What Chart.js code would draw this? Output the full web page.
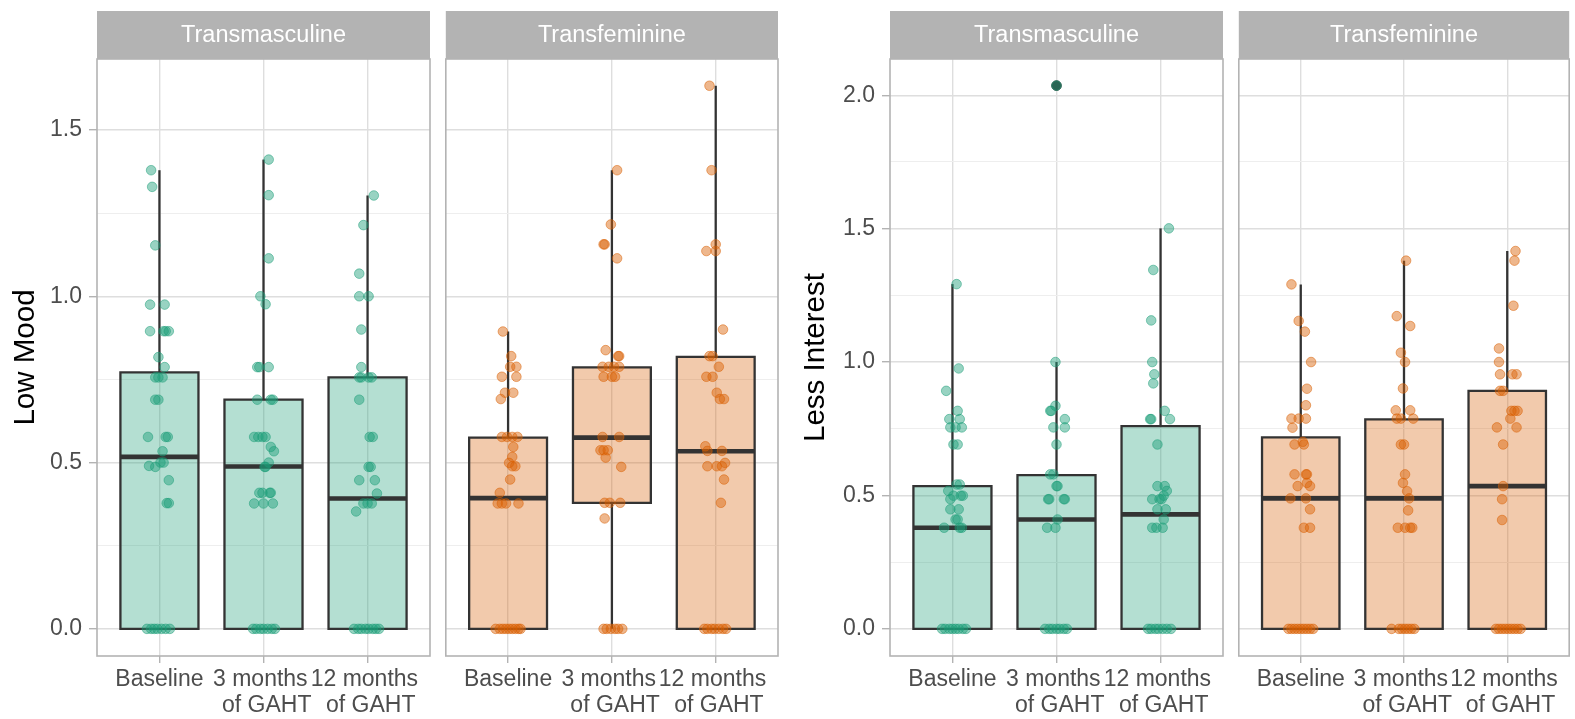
<!DOCTYPE html>
<html>
<head>
<meta charset="utf-8">
<script src="https://cdn.jsdelivr.net/npm/chart.js@4.4.1/dist/chart.umd.min.js"></script>
<style>
  html, body { margin: 0; padding: 0; background: #fff; }
  body { width: 1575px; height: 719px; position: relative; overflow: hidden; }
  canvas { position: absolute; top: 0; }
</style>
</head>
<body>
<canvas id="c1"></canvas>
<canvas id="c2"></canvas>
<canvas id="c3"></canvas>
<canvas id="c4"></canvas>
<script>
const categories = [['Baseline'], ['3 months ', ' of GAHT'], ['12 months ', ' of GAHT']];
const groups = ['Transmasculine', 'Transfeminine'];
const lowMoodTicks = [0, 0.25, 0.5, 0.75, 1, 1.25, 1.5];
const lessInterestTicks = [0, 0.25, 0.5, 0.75, 1, 1.25, 1.5, 1.75, 2];

// box stats: [lower whisker, q1, median, q3, upper whisker]
const lowMoodMascBox = [[0, 0, 0.517, 0.771, 1.379], [0, 0, 0.488, 0.689, 1.411], [0, 0, 0.392, 0.756, 1.303]];
const lowMoodFemBox = [[0, 0, 0.393, 0.575, 0.894], [0, 0.379, 0.575, 0.786, 1.379], [0, 0, 0.534, 0.818, 1.633]];
const lessIntMascBox = [[0, 0, 0.379, 0.535, 1.292], [0, 0, 0.41, 0.576, 1.0], [0, 0, 0.429, 0.76, 1.501]];
const lessIntFemBox = [[0, 0, 0.489, 0.718, 1.291], [0, 0, 0.489, 0.785, 1.38], [0, 0, 0.535, 0.892, 1.416]];
const lessIntMascOutliers = [[2, 2.036]];

// jittered points: [value, horizontal jitter]
const lowMoodMascPts = [
  [[1.379,-0.08],[1.329,-0.07],[1.153,-0.04],[0.975,-0.09],[0.975,0.05],[0.895,-0.09],[0.895,0.04],[0.895,0.06],[0.895,0.09],[0.817,-0.01],[0.787,0.05],[0.756,-0.04],[0.756,-0.01],[0.756,0.03],[0.689,-0.04],[0.689,-0.01],[0.577,-0.11],[0.577,0.06],[0.577,0.08],[0.534,0.03],[0.5,0.01],[0.5,0.04],[0.49,-0.1],[0.487,-0.04],[0.447,0.09],[0.378,0.07],[0.378,0.09],[0,-0.12],[0,-0.08],[0,-0.05],[0,-0.02],[0,0.02],[0,0.06],[0,0.1]],
  [[1.411,0.05],[1.304,0.05],[1.114,0.05],[1.0,-0.03],[0.976,0.02],[0.787,-0.06],[0.787,-0.04],[0.787,0.05],[0.689,-0.06],[0.689,0.07],[0.689,0.09],[0.577,-0.09],[0.577,-0.05],[0.577,-0.01],[0.577,0.02],[0.547,0.07],[0.534,0.1],[0.5,0.05],[0.487,0.02],[0.487,0.01],[0.409,-0.04],[0.409,-0.01],[0.409,0.06],[0.409,0.07],[0.377,-0.09],[0.377,0],[0.377,0.09],[0,-0.1],[0,-0.07],[0,-0.03],[0,0],[0,0.04],[0,0.08],[0,0.11]],
  [[1.303,0.06],[1.214,-0.04],[1.068,-0.08],[1.0,-0.08],[1.0,0.01],[0.9,-0.06],[0.787,-0.06],[0.756,-0.08],[0.756,-0.06],[0.756,0.01],[0.756,0.04],[0.689,-0.08],[0.577,0.02],[0.577,0.05],[0.487,0.01],[0.487,0.03],[0.447,-0.08],[0.447,0.07],[0.407,0.09],[0.377,-0.04],[0.377,0],[0.377,0.04],[0.353,-0.11],[0,-0.13],[0,-0.09],[0,-0.06],[0,-0.02],[0,0.01],[0,0.05],[0,0.08],[0,0.11]]
];
const lowMoodFemPts = [
  [[0.894,-0.05],[0.82,0.03],[0.788,0.08],[0.788,0.02],[0.758,-0.06],[0.758,0.08],[0.71,-0.03],[0.71,0.05],[0.691,-0.07],[0.577,-0.06],[0.577,-0.01],[0.577,0.04],[0.577,0.09],[0.547,0.05],[0.517,0.04],[0.499,0.01],[0.489,0.07],[0.489,0.04],[0.449,0.02],[0.409,-0.08],[0.377,-0.1],[0.377,-0.06],[0.377,-0.02],[0.377,0.1],[0,-0.12],[0,-0.08],[0,-0.05],[0,-0.02],[0,0.01],[0,0.04],[0,0.07],[0,0.1],[0,0.12]],
  [[1.379,0.05],[1.216,-0.01],[1.156,-0.08],[1.156,-0.07],[1.114,0.05],[0.838,-0.06],[0.82,0.06],[0.82,0.07],[0.788,-0.09],[0.788,-0.03],[0.788,0.02],[0.788,0.07],[0.758,-0.08],[0.758,0],[0.758,0.03],[0.577,-0.09],[0.577,0.07],[0.537,-0.11],[0.537,-0.08],[0.537,-0.04],[0.515,-0.06],[0.487,0.09],[0.379,-0.07],[0.379,-0.02],[0.379,0.08],[0.332,-0.07],[0,-0.08],[0,-0.05],[0,-0.01],[0,0.03],[0,0.06],[0,0.1]],
  [[1.633,-0.06],[1.379,-0.04],[1.156,0],[1.136,-0.09],[1.136,0],[0.9,0.07],[0.82,-0.06],[0.82,-0.03],[0.788,0.03],[0.758,-0.09],[0.758,-0.03],[0.71,0.01],[0.691,0.04],[0.691,0.08],[0.549,-0.1],[0.535,-0.08],[0.535,0.06],[0.499,0.09],[0.489,-0.08],[0.489,0.01],[0.489,0.06],[0.449,0.08],[0.379,0.05],[0,-0.11],[0,-0.08],[0,-0.04],[0,-0.01],[0,0.03],[0,0.07],[0,0.1]]
];
const lessIntMascPts = [
  [[1.292,0.04],[0.976,0.06],[0.892,-0.06],[0.817,0.05],[0.786,-0.03],[0.786,0.07],[0.755,-0.02],[0.755,0.03],[0.755,0.09],[0.691,0.01],[0.691,0.05],[0.541,0.04],[0.541,0.07],[0.517,-0.04],[0.499,0.01],[0.499,0.08],[0.499,0.1],[0.486,-0.02],[0.448,-0.02],[0.448,0.06],[0.41,0.03],[0.41,0.05],[0.379,-0.08],[0.379,0.07],[0.379,0.09],[0,-0.1],[0,-0.07],[0,-0.03],[0,0],[0,0.03],[0,0.06],[0,0.1],[0,0.13]],
  [[2.036,0],[1.0,-0.01],[0.836,-0.01],[0.817,-0.06],[0.817,-0.05],[0.786,0.08],[0.755,-0.03],[0.755,0.08],[0.691,0],[0.579,-0.06],[0.579,-0.03],[0.535,0],[0.535,0.01],[0.486,-0.08],[0.486,-0.07],[0.486,0.07],[0.486,0.08],[0.41,0.01],[0.379,-0.09],[0.379,-0.01],[0,-0.11],[0,-0.07],[0,-0.04],[0,0],[0,0.03],[0,0.07],[0,0.1]],
  [[1.501,0.08],[1.345,-0.07],[1.156,-0.09],[1.0,-0.08],[0.954,-0.06],[0.92,-0.07],[0.817,0.04],[0.786,-0.1],[0.786,-0.09],[0.786,0.09],[0.691,-0.03],[0.535,-0.03],[0.535,0.04],[0.517,0.06],[0.499,0.03],[0.486,-0.08],[0.486,-0.01],[0.486,0.01],[0.448,-0.03],[0.448,0.05],[0.41,0.03],[0.379,-0.08],[0.379,-0.04],[0.379,0.02],[0,-0.12],[0,-0.09],[0,-0.05],[0,-0.02],[0,0.02],[0,0.06],[0,0.1]]
];
const lessIntFemPts = [
  [[1.291,-0.09],[1.154,-0.02],[1.114,0.04],[1.0,0.1],[0.9,0.06],[0.838,0.05],[0.788,-0.09],[0.788,-0.02],[0.788,0.05],[0.754,-0.08],[0.701,0.02],[0.691,-0.06],[0.691,0.03],[0.579,-0.06],[0.579,0.05],[0.579,0.06],[0.547,0.06],[0.535,-0.03],[0.535,0.09],[0.489,-0.1],[0.489,0.05],[0.448,0.09],[0.379,0.03],[0.379,0.09],[0,-0.12],[0,-0.09],[0,-0.06],[0,-0.03],[0,0],[0,0.03],[0,0.06],[0,0.09],[0,0.12]],
  [[1.38,0.02],[1.172,-0.07],[1.135,0.06],[1.035,-0.03],[1.0,0.01],[0.901,-0.01],[0.819,-0.08],[0.819,0.06],[0.788,-0.07],[0.788,-0.03],[0.788,0.09],[0.691,-0.03],[0.691,0],[0.579,0.01],[0.547,-0.01],[0.516,0.03],[0.489,0.05],[0.444,0.04],[0.379,-0.06],[0.379,0.01],[0.379,0.06],[0.379,0.08],[0,-0.12],[0,-0.05],[0,-0.02],[0,0.01],[0,0.04],[0,0.07],[0,0.1]],
  [[1.416,0.08],[1.38,0.07],[1.211,0.06],[1.051,-0.08],[1.0,-0.08],[0.954,-0.07],[0.954,0.05],[0.954,0.09],[0.892,-0.07],[0.892,-0.04],[0.817,0.04],[0.817,0.07],[0.817,0.1],[0.788,0.03],[0.755,-0.1],[0.755,0.09],[0.691,-0.04],[0.535,-0.04],[0.486,-0.05],[0.408,-0.05],[0,-0.11],[0,-0.08],[0,-0.05],[0,-0.02],[0,0.01],[0,0.04],[0,0.07],[0,0.1],[0,0.13]]
];

const FONT = '"Liberation Sans", Arial, sans-serif';
const TEAL = '27,158,119';
const ORANGE = '217,95,2';
const LINE = '#333333';

function isMajor(v) {
  return Math.abs(v * 2 - Math.round(v * 2)) < 1e-9;
}

function buildDatasets(boxes, pts, rgb, outliers) {
  const ds = [];
  const hw = 0.375;
  boxes.forEach((b, i) => {
    const x = i + 1;
    ds.push({
      type: 'line', order: 3,
      data: [{x: x - hw, y: b[1]}, {x: x - hw, y: b[3]}, {x: x + hw, y: b[3]}, {x: x + hw, y: b[1]}, {x: x - hw, y: b[1]}],
      fill: 'shape', backgroundColor: 'rgba(' + rgb + ',0.33)',
      borderColor: LINE, borderWidth: 2.3, borderJoinStyle: 'miter', borderCapStyle: 'square',
      pointRadius: 0, tension: 0
    });
    ds.push({
      type: 'line', order: 3, data: [{x: x, y: b[3]}, {x: x, y: b[4]}],
      borderColor: LINE, borderWidth: 2.3, pointRadius: 0, fill: false
    });
    if (b[0] < b[1]) {
      ds.push({
        type: 'line', order: 3, data: [{x: x, y: b[0]}, {x: x, y: b[1]}],
        borderColor: LINE, borderWidth: 2.3, pointRadius: 0, fill: false
      });
    }
    ds.push({
      type: 'line', order: 2, data: [{x: x - hw, y: b[2]}, {x: x + hw, y: b[2]}],
      borderColor: LINE, borderWidth: 4.6, pointRadius: 0, fill: false
    });
  });
  (outliers || []).forEach(o => {
    ds.push({
      type: 'scatter', order: 1, data: [{x: o[0], y: o[1]}],
      pointRadius: 4.8, backgroundColor: '#3a3a3a', borderColor: '#3a3a3a', borderWidth: 1
    });
  });
  pts.forEach((grp, i) => {
    ds.push({
      type: 'scatter', order: 0,
      data: grp.map(p => ({x: i + 1 + p[1], y: p[0]})),
      pointRadius: 4.8, borderWidth: 1,
      backgroundColor: 'rgba(' + rgb + ',0.45)', borderColor: 'rgba(' + rgb + ',0.5)'
    });
  });
  return ds;
}

const panelPlugin = {
  id: 'panel',
  beforeDraw(chart) {
    const t = chart.titleBlock;
    const c = chart.ctx;
    c.save();
    c.fillStyle = '#b3b3b3';
    c.fillRect(t.left, t.top, t.width, t.height);
    c.restore();
  },
  afterDatasetsDraw(chart) {
    const a = chart.chartArea;
    const c = chart.ctx;
    c.save();
    c.strokeStyle = '#b3b3b3';
    c.lineWidth = 1.6;
    c.strokeRect(a.left, a.top, a.right - a.left, a.bottom - a.top);
    c.restore();
  }
};

function makeChart(id, o) {
  const cv = document.getElementById(id);
  cv.width = o.width;
  cv.height = 719;
  cv.style.left = o.left + 'px';
  return new Chart(cv, {
    type: 'scatter',
    data: {datasets: buildDatasets(o.boxes, o.pts, o.rgb, o.outliers)},
    options: {
      responsive: false,
      animation: false,
      events: [],
      layout: {padding: {top: 11, right: o.width - o.yw - 333, left: 0, bottom: 0}},
      plugins: {
        legend: {display: false},
        tooltip: {enabled: false},
        title: {
          display: true, text: o.strip, fullSize: false, color: '#ffffff',
          font: {size: 23.5, family: FONT, weight: 'normal', lineHeight: 1.2},
          padding: {top: 10, bottom: 9.8}
        }
      },
      scales: {
        x: {
          type: 'linear', min: 0.4, max: 3.6,
          afterBuildTicks: s => { s.ticks = [1, 2, 3].map(v => ({value: v})); },
          afterFit: s => { s.height = 63; },
          ticks: {
            callback: v => categories[Math.round(v) - 1],
            color: '#4d4d4d', font: {size: 23, family: FONT, lineHeight: 1.12},
            padding: 4, maxRotation: 0, autoSkip: false
          },
          grid: {color: '#dedede', lineWidth: 1.4, tickColor: '#b3b3b3', tickLength: 7, tickWidth: 1.4},
          border: {display: false}
        },
        y: {
          type: 'linear', min: o.ymin, max: o.ymax,
          afterBuildTicks: s => { s.ticks = o.yticks.map(v => ({value: v})); },
          afterFit: s => { s.width = o.yw; },
          ticks: {
            display: !!o.ytitle,
            callback: v => (isMajor(v) ? v.toFixed(1) : ''),
            color: '#4d4d4d', font: {size: 23, family: FONT}, padding: 7
          },
          grid: {
            color: c => (isMajor(c.tick.value) ? '#dedede' : '#eeeeee'),
            lineWidth: c => (isMajor(c.tick.value) ? 1.4 : 1),
            drawTicks: !!o.ytitle,
            tickColor: c => (isMajor(c.tick.value) ? '#b3b3b3' : 'rgba(0,0,0,0)'),
            tickLength: 8, tickWidth: 1.4
          },
          border: {display: false},
          title: {
            display: !!o.ytitle, text: o.ytitle || '', color: '#000000',
            font: {size: 29.5, family: FONT, lineHeight: 1.2},
            padding: {top: o.titlePad || 0, bottom: 0}
          }
        }
      }
    },
    plugins: [panelPlugin]
  });
}

makeChart('c1', {left: 0, width: 436, yw: 97, strip: groups[0], boxes: lowMoodMascBox, pts: lowMoodMascPts, rgb: TEAL,
  ymin: -0.0816, ymax: 1.7134, yticks: lowMoodTicks, ytitle: 'Low Mood', titlePad: 8});
makeChart('c2', {left: 440, width: 344, yw: 5, strip: groups[1], boxes: lowMoodFemBox, pts: lowMoodFemPts, rgb: ORANGE,
  ymin: -0.0816, ymax: 1.7134, yticks: lowMoodTicks});
makeChart('c3', {left: 785, width: 444, yw: 105, strip: groups[0], boxes: lessIntMascBox, pts: lessIntMascPts, rgb: TEAL,
  outliers: lessIntMascOutliers, ymin: -0.1017, ymax: 2.1357, yticks: lessInterestTicks, ytitle: 'Less Interest', titlePad: 13.5});
makeChart('c4', {left: 1233, width: 342, yw: 5, strip: groups[1], boxes: lessIntFemBox, pts: lessIntFemPts, rgb: ORANGE,
  ymin: -0.1017, ymax: 2.1357, yticks: lessInterestTicks});
</script>
</body>
</html>
